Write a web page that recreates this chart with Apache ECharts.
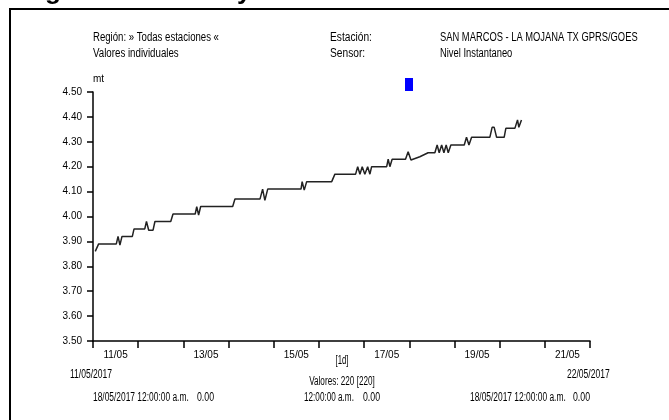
<!DOCTYPE html>
<html>
<head>
<meta charset="utf-8">
<script src="https://cdn.jsdelivr.net/npm/echarts@6/dist/echarts.min.js"></script>
<style>
html, body { margin: 0; padding: 0; background: #fff; }
#nivel-chart { width: 669px; height: 420px; }
</style>
</head>
<body>
<div id="nivel-chart"></div>
<script>
// horas desde 11/05/2017 00:00
var hours = [1.2, 3.0, 12.4, 13.3, 14.3, 15.4, 20.9, 21.8, 27.5, 28.4,
    29.6, 31.9, 32.9, 41.3, 42.5, 54.3, 55.1, 56.1, 57.2, 74.2,
    75.4, 88.7, 90.1, 91.3, 92.8, 110.5, 111.1, 112.2, 113.5, 126.8,
    128.5, 139.5, 140.6, 141.8, 143.0, 144.4, 145.9, 147.1, 148.0, 156.0,
    156.8, 157.7, 158.9, 166.0, 167.4, 168.9, 173.6, 178.0, 181.6, 182.8,
    183.9, 185.2, 186.4, 187.6, 188.7, 190.1, 197.2, 198.4, 199.7, 201.1,
    210.8, 212.0, 213.1, 214.4, 218.4, 219.3, 224.1, 225.5, 226.2, 227.6];
// nivel en metros
var levels = [3.86, 3.89, 3.89, 3.92, 3.885, 3.92, 3.92, 3.95, 3.95, 3.98,
    3.945, 3.945, 3.98, 3.98, 4.01, 4.01, 4.04, 4.006, 4.04, 4.04,
    4.07, 4.07, 4.11, 4.065, 4.11, 4.11, 4.14, 4.106, 4.14, 4.14,
    4.17, 4.17, 4.20, 4.17, 4.20, 4.17, 4.20, 4.17, 4.20, 4.20,
    4.23, 4.20, 4.23, 4.23, 4.26, 4.227, 4.24, 4.256, 4.256, 4.287,
    4.256, 4.287, 4.256, 4.287, 4.256, 4.287, 4.287, 4.318, 4.287, 4.318,
    4.318, 4.358, 4.358, 4.318, 4.318, 4.354, 4.354, 4.388, 4.358, 4.388];
var dayLabels = ['11/05', '12/05', '13/05', '14/05', '15/05', '16/05',
    '17/05', '18/05', '19/05', '20/05', '21/05'];

var font = '"Liberation Sans", Arial, sans-serif';
var fontSize = 12;

// sx: el texto original es una fuente angosta
function txt(x, y, s, align, sx) {
    return {
        type: 'text',
        x: x,
        y: y,
        scaleX: sx || 1,
        silent: true,
        style: {
            text: s,
            fill: '#000',
            font: fontSize + 'px ' + font,
            align: align || 'left',
            verticalAlign: 'middle'
        }
    };
}

var chart = echarts.init(document.getElementById('nivel-chart'));

var seriesData = [];
for (var i = 0; i < hours.length; i++) {
    seriesData.push([hours[i], levels[i]]);
}

var option = {
    animation: false,
    backgroundColor: '#fff',
    grid: {
        left: 93,
        right: 79,
        top: 92,
        bottom: 79
    },
    xAxis: [
        {
            type: 'value',
            position: 'bottom',
            min: 0,
            max: 264,
            interval: 24,
            axisLine: { lineStyle: { color: '#000', width: 1.5 } },
            axisTick: { length: 7, lineStyle: { color: '#000', width: 1.5 } },
            axisLabel: { show: false },
            splitLine: { show: false }
        },
        {
            type: 'category',
            position: 'bottom',
            data: dayLabels,
            boundaryGap: true,
            axisLine: { show: false },
            axisTick: { show: false },
            axisLabel: {
                interval: 1,
                margin: 9,
                color: '#000',
                fontFamily: font,
                fontSize: 10
            },
            splitLine: { show: false }
        }
    ],
    yAxis: {
        type: 'value',
        min: 3.5,
        max: 4.5,
        interval: 0.1,
        name: 'mt',
        nameLocation: 'end',
        nameGap: 8,
        nameTextStyle: {
            align: 'left',
            color: '#000',
            fontFamily: font,
            fontSize: 10
        },
        axisLine: { show: true, lineStyle: { color: '#000', width: 1.5 } },
        axisTick: { show: true, length: 6, lineStyle: { color: '#000', width: 1.5 } },
        axisLabel: {
            margin: 11,
            color: '#000',
            fontFamily: font,
            fontSize: 10,
            formatter: function (v) { return v.toFixed(2); }
        },
        splitLine: { show: false }
    },
    series: [
        {
            name: 'Nivel Instantaneo',
            type: 'line',
            xAxisIndex: 0,
            data: seriesData,
            showSymbol: false,
            lineStyle: { color: '#222', width: 1.5 }
        }
    ],
    graphic: [
        // titulo recortado arriba
        {
            type: 'text',
            x: -23,
            y: 5,
            silent: true,
            style: {
                text: 'Hidrograma de Nivel y Caudal',
                fill: '#000',
                font: 'bold 26px "Liberation Sans", Arial, sans-serif',
                align: 'left',
                verticalAlign: 'bottom'
            }
        },
        // marco
        {
            type: 'rect',
            silent: true,
            shape: { x: 10, y: 9, width: 720, height: 460 },
            style: { fill: 'none', stroke: '#000', lineWidth: 2 }
        },
        {
            type: 'rect',
            silent: true,
            shape: { x: 405, y: 78, width: 8, height: 13 },
            style: { fill: '#0000ff' }
        },
        txt(93, 38, 'Región: » Todas estaciones «', 'left', 0.8),
        txt(93, 54, 'Valores individuales', 'left', 0.81),
        txt(330, 38, 'Estación:', 'left', 0.85),
        txt(330, 54, 'Sensor:', 'left', 0.85),
        txt(440, 38, 'SAN MARCOS - LA MOJANA TX GPRS/GOES', 'left', 0.78),
        txt(440, 54, 'Nivel Instantaneo', 'left', 0.78),
        txt(70, 375, '11/05/2017', 'left', 0.71),
        txt(567, 375, '22/05/2017', 'left', 0.71),
        txt(342, 361, '[1d]', 'center', 0.65),
        txt(342, 382, 'Valores: 220 [220]', 'center', 0.68),
        txt(93, 398, '18/05/2017 12:00:00 a.m.', 'left', 0.7),
        txt(197, 398, '0.00', 'left', 0.73),
        txt(304, 398, '12:00:00 a.m.', 'left', 0.68),
        txt(363, 398, '0.00', 'left', 0.73),
        txt(470, 398, '18/05/2017 12:00:00 a.m.', 'left', 0.7),
        txt(573, 398, '0.00', 'left', 0.73)
    ]
};
chart.setOption(option);
</script>
</body>
</html>
